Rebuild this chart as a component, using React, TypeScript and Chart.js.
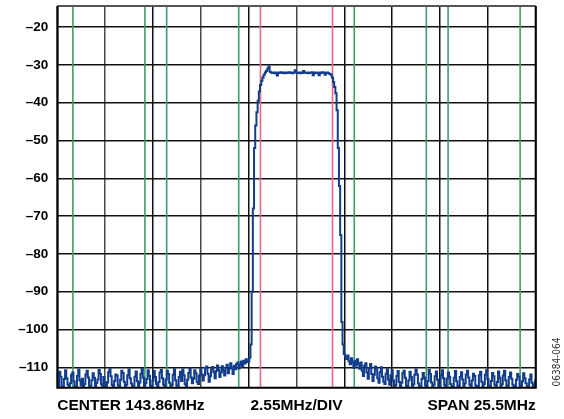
import { useEffect, useRef } from 'react';
import { Chart, registerables } from 'chart.js';

Chart.register(...registerables);

// ---- data ----
const X_MIN = -12.75; // MHz offset from centre (centre 143.86 MHz, span 25.5 MHz)
const X_MAX = 12.75;
const DIV = 2.55;
const Y_MIN = -115.4;
const Y_MAX = -14.4;

const yTicks = [-110, -100, -90, -80, -70, -60, -50, -40, -30, -20];
const xTickLabels = [
  'CENTER 143.86MHz', '', '', '', '', '2.55MHz/DIV', '', '', '', '', 'SPAN 25.5MHz',
];
const redMarkers = [-1.92, 1.92];
const greenMarkers = [-11.92, -8.08, -6.92, -3.08, 3.08, 6.92, 8.08, 11.92];

// left noise floor (sweep points 0..159)
const leftNoise = [
  -113.8, -114.9, -111.2, -112.5, -115.2, -115.0, -113.1, -110.8, -112.9, -114.6,
  -115.1, -114.2, -112.0, -111.4, -113.7, -115.2, -115.0, -112.3, -110.6, -113.5,
  -114.8, -113.0, -115.1, -114.4, -111.9, -110.9, -112.7, -114.9, -115.2, -113.4,
  -111.6, -112.8, -115.0, -114.1, -113.2, -110.7, -111.8, -114.5, -115.1, -112.6,
  -113.9, -115.2, -114.0, -111.3, -110.5, -112.4, -114.7, -115.0, -113.6, -111.9,
  -112.2, -114.8, -115.1, -113.3, -110.9, -111.5, -113.8, -115.2, -114.6, -112.1,
  -110.6, -112.9, -114.3, -115.0, -114.9, -112.5, -111.1, -113.7, -115.1, -114.0,
  -111.7, -110.4, -112.8, -115.0, -114.2, -113.1, -110.8, -112.3, -114.9, -115.2,
  -113.5, -111.0, -112.6, -114.4, -115.1, -113.9, -111.4, -110.7, -112.9, -114.6,
  -115.0, -113.2, -110.9, -111.8, -114.1, -115.2, -114.7, -112.0, -110.5, -113.4,
  -114.8, -115.1, -112.6, -111.2, -113.6, -110.6, -112.1, -114.5, -115.0, -113.3,
  -111.5, -110.3, -112.7, -114.2, -113.0, -110.8, -111.6, -113.9, -114.4, -112.2,
  -110.4, -111.9, -113.5, -112.1, -110.2, -109.8, -111.7, -113.8, -112.4, -110.6,
  -109.9, -111.3, -112.9, -111.0, -109.5, -110.7, -112.6, -111.4, -109.7, -110.9,
  -112.2, -110.1, -109.3, -111.6, -110.4, -108.9, -110.2, -111.8, -109.6, -110.5,
  -109.1, -108.7, -110.3, -109.4, -108.5, -109.8, -108.3, -109.0, -107.9, -108.6,
];

// carrier (sweep points 160..241)
const channel = [
  -108.5, -107.5, -104.0, -90.0, -68.0, -52.0, -46.0, -42.5, -39.5, -37.0,
  -35.3, -34.2, -33.3, -32.6, -32.0, -31.6, -31.0, -30.4, -31.8,
  -32.0, -32.1, -32.0, -32.2, -32.0, -32.8, -32.1, -32.0, -31.9, -32.1,
  -32.0, -32.2, -32.0, -32.1, -32.0, -31.9, -32.1, -32.0, -32.2, -32.0,
  -31.4, -32.0, -32.1, -32.0, -32.2, -32.0, -32.1, -31.6, -32.0, -32.1,
  -32.0, -32.2, -32.1, -32.0, -31.9, -32.7, -32.0, -32.1, -32.0, -32.2,
  -32.7, -32.0, -32.1, -31.9, -32.0, -32.6, -32.1, -32.0, -32.2, -32.4,
  -32.6,
  -33.3, -34.5, -35.8, -37.5, -42.0, -52.0, -62.0, -75.0, -98.0, -104.0, -106.5, -107.2,
];

// right noise floor (sweep points 242..400)
const rightNoise = [
  -107.8, -106.9, -108.4, -109.2, -107.6, -108.8, -110.1, -108.3, -109.5, -107.9, -109.0, -110.4,
  -108.7, -110.9, -112.3, -109.6, -108.9, -111.4, -113.0, -110.2, -109.1, -111.8,
  -113.6, -112.0, -109.8, -110.6, -112.9, -114.1, -111.3, -110.0, -112.5, -113.8,
  -114.4, -111.7, -110.5, -113.2, -114.6,
  -112.1, -110.8, -113.5, -115.0, -114.7, -112.3, -111.0, -113.9, -115.2, -114.1,
  -111.6, -110.9, -112.8, -114.9, -115.1, -113.4, -111.2, -112.6, -115.0, -114.5,
  -112.0, -110.6, -111.9, -114.3, -115.2, -115.0, -113.1, -111.5, -112.7, -114.8,
  -115.1, -113.6, -110.7, -111.8, -114.0, -115.2, -114.6, -112.4, -111.1, -113.3,
  -115.0, -114.9, -112.2, -110.8, -112.9, -114.7, -115.1, -113.0, -111.4, -112.5,
  -114.4, -115.2, -115.0, -112.8, -111.0, -113.7, -114.9, -115.1, -112.6, -111.3,
  -113.2, -115.0, -114.3, -111.9, -110.9, -112.7, -114.6, -115.2, -113.5, -111.7,
  -112.3, -114.8, -115.1, -115.0, -112.1, -111.2, -113.8, -115.2, -114.4, -112.0,
  -110.8, -113.1, -114.9, -115.0, -113.6, -111.5, -112.4, -114.7, -115.2, -113.9,
  -111.1, -112.8, -115.0, -114.5, -112.2, -110.9, -113.4, -115.1, -114.8, -112.6,
  -111.4, -113.0, -114.6, -115.2, -115.0, -113.3, -111.8, -112.5, -114.9, -115.1,
  -113.7, -111.6, -112.9, -114.2, -115.0, -115.2, -113.2, -111.9, -114.1, -115.0,
  -114.6, -113.5,
];

const levels = [...leftNoise, ...channel, ...rightNoise];

const FONT = '"Liberation Sans", Arial, sans-serif';

const frame = {
  id: 'frame',
  afterDatasetsDraw(chart: any) {
    const { ctx, chartArea: a } = chart;
    ctx.save();
    ctx.lineWidth = 2;
    ctx.strokeStyle = '#555';
    ctx.beginPath();
    ctx.moveTo(a.left, a.top);
    ctx.lineTo(a.right, a.top);
    ctx.stroke();
    ctx.strokeStyle = '#000';
    ctx.beginPath();
    ctx.moveTo(a.right, a.top);
    ctx.lineTo(a.right, a.bottom);
    ctx.lineTo(a.left, a.bottom);
    ctx.lineTo(a.left, a.top);
    ctx.stroke();
    ctx.restore();
  },
  afterDraw(chart: any) {
    const { ctx } = chart;
    ctx.save();
    ctx.translate(557, 362);
    ctx.rotate(-Math.PI / 2);
    ctx.font = `10px "DejaVu Sans Condensed", ${FONT}`;
    ctx.fillStyle = '#333';
    ctx.textAlign = 'center';
    ctx.textBaseline = 'middle';
    ctx.fillText('06384-064', 0, 0);
    ctx.restore();
  },
};

export default function App() {
  const ref = useRef<HTMLCanvasElement | null>(null);

  useEffect(() => {
    if (!ref.current) return;
    const step = (X_MAX - X_MIN) / (levels.length - 1);
    const trace = levels.map((y, i) => ({ x: X_MIN + i * step, y }));
    const markerSet = (m: number, color: string) => ({
      data: [
        { x: m, y: Y_MIN },
        { x: m, y: Y_MAX },
      ],
      borderColor: color,
      borderWidth: 1.6,
      pointRadius: 0,
    });

    const chart = new Chart(ref.current, {
      type: 'line',
      data: {
        datasets: [
          {
            data: trace,
            borderColor: '#123c8c',
            borderWidth: 2,
            pointRadius: 0,
            stepped: 'middle',
          },
          ...redMarkers.map((m) => markerSet(m, '#e8687e')),
          ...greenMarkers.map((m) => markerSet(m, '#3c9e66')),
        ] as any,
      },
      options: {
        animation: false,
        responsive: false,
        devicePixelRatio: 1,
        layout: { padding: { left: 0, right: 28.3, top: 6, bottom: 0 } },
        plugins: { legend: { display: false }, tooltip: { enabled: false } },
        scales: {
          x: {
            type: 'linear',
            min: X_MIN,
            max: X_MAX,
            afterBuildTicks: (s: any) => {
              s.ticks = xTickLabels.map((_, i) => ({ value: X_MIN + i * DIV }));
            },
            afterFit: (s: any) => {
              s.height = 31.3;
              s.paddingLeft = 0;
              s.paddingRight = 0;
            },
            border: { display: false },
            grid: {
              drawTicks: false,
              lineWidth: 1.5,
              color: (c: any) => ([1, 3, 5].includes(c.index) ? '#4a4a4a' : '#111'),
            },
            ticks: {
              autoSkip: false,
              maxRotation: 0,
              align: 'inner',
              padding: 9,
              color: '#000',
              font: { family: FONT, size: 15.5, weight: 'bold' },
              callback: (_v: any, i: number) => xTickLabels[i],
            },
          },
          y: {
            min: Y_MIN,
            max: Y_MAX,
            afterBuildTicks: (s: any) => {
              s.ticks = yTicks.map((v) => ({ value: v }));
            },
            afterFit: (s: any) => {
              s.width = 57.3;
              s.paddingTop = 0;
              s.paddingBottom = 0;
            },
            border: { display: false },
            grid: { drawTicks: false, lineWidth: 1.5, color: '#111' },
            ticks: {
              padding: 9,
              color: '#000',
              font: { family: FONT, size: 13.5, weight: 'bold' },
              callback: (v: any) => '–' + Math.abs(Number(v)),
            },
          },
        },
      } as any,
      plugins: [frame],
    });
    return () => chart.destroy();
  }, []);

  return (
    <div style={{ position: 'fixed', left: 0, top: 0, width: 564, height: 419, background: '#fff' }}>
      <canvas ref={ref} width={564} height={419} style={{ display: 'block' }} />
    </div>
  );
}
